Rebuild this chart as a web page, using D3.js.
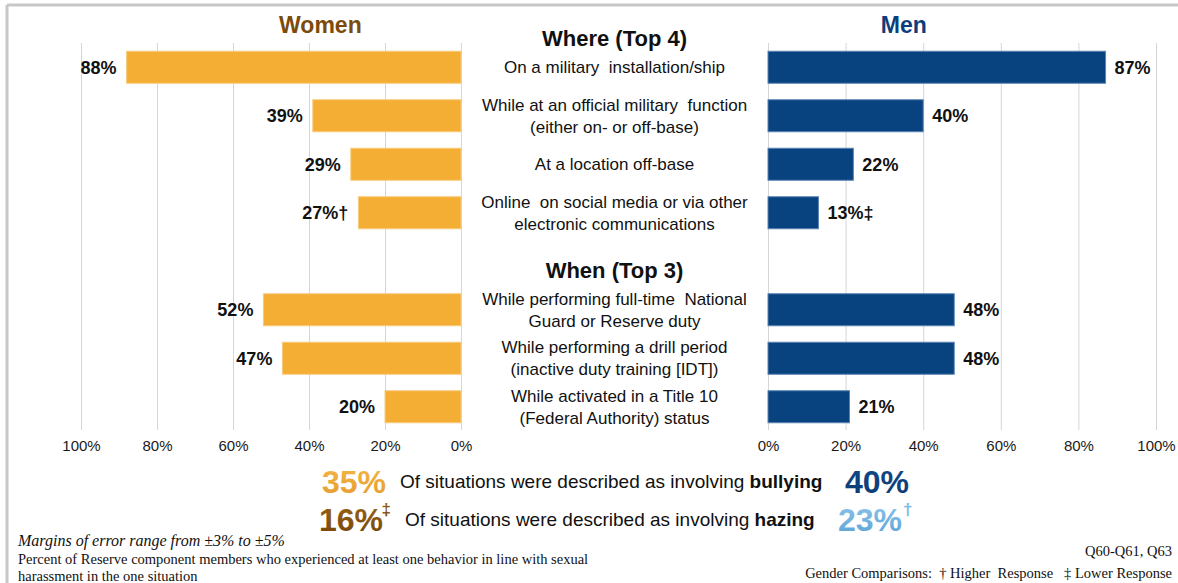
<!DOCTYPE html>
<html lang="en">
<head>
  <meta charset="UTF-8">
  <script src="https://d3js.org/d3.v7.min.js"></script>
  <title>Where and When</title>
  <style>
    body { margin: 0; background: #fff; }
    svg { display: block; font-family: "Liberation Sans", Arial, sans-serif; }
  </style>
</head>
<body>
  <svg width="1178" height="583"></svg>
  <script>
    // rows, "gap" is the slot where the "When" header sits
    const rowKeys = ["r0", "r1", "r2", "r3", "gap", "r5", "r6", "r7"];
    const barRows = ["r0", "r1", "r2", "r3", "r5", "r6", "r7"];
    const rowLabels = [
      ["On a military  installation/ship"],
      ["While at an official military  function", "(either on- or off-base)"],
      ["At a location off-base"],
      ["Online  on social media or via other", "electronic communications"],
      ["While performing full-time  National", "Guard or Reserve duty"],
      ["While performing a drill period", "(inactive duty training [IDT])"],
      ["While activated in a Title 10", "(Federal Authority) status"]
    ];
    const womenValues = [88, 39, 29, 27, 52, 47, 20];
    const womenMarks = ["", "", "", "†", "", "", ""];
    const menValues = [87, 40, 22, 13, 48, 48, 21];
    const menMarks = ["", "", "", "‡", "", "", ""];
    const sectionTitles = ["Where (Top 4)", "When (Top 3)"];
    const tickValues = [0, 20, 40, 60, 80, 100];

    const statTopics = ["bullying", "hazing"];
    const womenStats = [35, 16];
    const womenStatMarks = ["", "‡"];
    const menStats = [40, 23];
    const menStatMarks = ["", "†"];

    const svg = d3.select("svg");

    // frame of the slide
    svg.append("line").attr("x1", 7).attr("x2", 1178).attr("y1", 5).attr("y2", 5)
      .style("stroke", "#c8c8c8").style("stroke-width", "3px");
    svg.append("line").attr("x1", 7).attr("x2", 7).attr("y1", 5).attr("y2", 583)
      .style("stroke", "#c8c8c8").style("stroke-width", "3px");

    const gridTop = 43, gridBottom = 430;
    const y = d3.scaleBand().domain(rowKeys).range([43, 431]).paddingInner(0.34).paddingOuter(0.17);
    const xW = d3.scaleLinear().domain([0, 100]).range([461, 81]);
    const xM = d3.scaleLinear().domain([0, 100]).range([768, 1156]);

    // gradients for the big numbers
    const defs = svg.append("defs");
    const grads = {
      gOrange: ["#f5b848", "#e39b2c"],
      gBrown: ["#9b6516", "#744409"],
      gNavy: ["#134a88", "#0b3a72"],
      gLight: ["#8fc6ea", "#5aa2d6"]
    };
    Object.entries(grads).forEach(([id, c]) => {
      const g = defs.append("linearGradient").attr("id", id)
        .attr("x1", 0).attr("x2", 0).attr("y1", 0).attr("y2", 1);
      g.append("stop").attr("offset", "0%").attr("stop-color", c[0]);
      g.append("stop").attr("offset", "100%").attr("stop-color", c[1]);
    });

    const drawAxis = (scale, id) => {
      const axis = d3.axisBottom(scale)
        .tickValues(tickValues)
        .tickSize(-(gridBottom - gridTop))
        .tickPadding(10)
        .tickFormat(d => d + "%");
      const g = svg.append("g")
        .attr("id", id)
        .attr("transform", `translate(0,${gridBottom})`)
        .call(axis);
      g.select("path.domain").style("display", "none");
      g.selectAll("line").style("stroke", "#d6d6d6").style("stroke-width", "1px");
      g.selectAll("text").style("font-size", "15px").style("fill", "#1a1a1a")
        .style("font-family", "Liberation Sans, Arial, sans-serif");
    };
    drawAxis(xW, "xAxisW");
    drawAxis(xM, "xAxisM");

    const rows = barRows.map((k, i) => ({
      key: k, label: rowLabels[i],
      w: womenValues[i], wm: womenMarks[i],
      m: menValues[i], mm: menMarks[i]
    }));

    // women bars
    svg.selectAll("rect.women").data(rows).enter().append("rect")
      .attr("class", "women")
      .attr("x", d => xW(d.w))
      .attr("y", d => y(d.key))
      .attr("width", d => xW(0) - xW(d.w))
      .attr("height", y.bandwidth())
      .style("fill", "#f4ae34")
      .style("stroke", "#f8cb7c")
      .style("stroke-width", "1px");

    // men bars
    svg.selectAll("rect.men").data(rows).enter().append("rect")
      .attr("class", "men")
      .attr("x", xM(0))
      .attr("y", d => y(d.key))
      .attr("width", d => xM(d.m) - xM(0))
      .attr("height", y.bandwidth())
      .style("fill", "#08427f")
      .style("stroke", "#5b84b3")
      .style("stroke-width", "1px");

    // value labels
    svg.selectAll("text.wval").data(rows).enter().append("text")
      .attr("class", "wval")
      .attr("x", d => xW(d.w) - 10)
      .attr("y", d => y(d.key) + y.bandwidth() / 2)
      .attr("dy", "0.36em")
      .attr("text-anchor", "end")
      .style("font-size", "18px").style("font-weight", "bold").style("fill", "#111")
      .text(d => d.w + "%" + d.wm);

    svg.selectAll("text.mval").data(rows).enter().append("text")
      .attr("class", "mval")
      .attr("x", d => xM(d.m) + 9)
      .attr("y", d => y(d.key) + y.bandwidth() / 2)
      .attr("dy", "0.36em")
      .style("font-size", "18px").style("font-weight", "bold").style("fill", "#111")
      .text(d => d.m + "%" + d.mm);

    // category labels in the middle column
    const midX = (xW(0) + xM(0)) / 2;
    svg.selectAll("text.cat").data(rows).enter().append("text")
      .attr("class", "cat")
      .attr("x", midX)
      .attr("text-anchor", "middle")
      .style("font-size", "17px").style("fill", "#111")
      .style("white-space", "pre")
      .each(function(d) {
        const n = d.label.length;
        const cy = y(d.key) + y.bandwidth() / 2;
        d3.select(this).selectAll("tspan").data(d.label).enter().append("tspan")
          .attr("x", midX)
          .attr("y", (t, i) => cy + (i - (n - 1) / 2) * 22)
          .attr("dy", "0.36em")
          .text(t => t);
      });

    // section headers
    svg.append("text")
      .attr("x", midX).attr("y", y("r0") - 5)
      .attr("text-anchor", "middle")
      .style("font-size", "22px").style("font-weight", "bold").style("fill", "#111")
      .text(sectionTitles[0]);
    svg.append("text")
      .attr("x", midX).attr("y", y("gap") + y.bandwidth() + 1)
      .attr("text-anchor", "middle")
      .style("font-size", "22px").style("font-weight", "bold").style("fill", "#111")
      .text(sectionTitles[1]);

    // panel titles
    svg.append("text")
      .attr("x", xW(37)).attr("y", 33)
      .attr("text-anchor", "middle")
      .style("font-size", "23px").style("font-weight", "bold").style("fill", "#7c4b0b")
      .text("Women");
    svg.append("text")
      .attr("x", xM(35)).attr("y", 33)
      .attr("text-anchor", "middle")
      .style("font-size", "23px").style("font-weight", "bold").style("fill", "#0b3e7b")
      .text("Men");

    // bullying / hazing lines
    const statY = [481, 519];
    const wFills = ["url(#gOrange)", "url(#gBrown)"];
    const mFills = ["url(#gNavy)", "url(#gLight)"];
    const textStart = [400, 405];
    const menStart = [845, 838];
    statTopics.forEach((topic, i) => {
      const t = svg.append("text")
        .attr("x", textStart[i]).attr("y", statY[i]).attr("dy", "0.36em")
        .style("font-size", "19px").style("fill", "#111");
      t.append("tspan").text("Of situations were described as involving ");
      t.append("tspan").style("font-weight", "bold").text(topic);

      svg.append("text")
        .attr("x", textStart[i] - 14 - (womenStatMarks[i] ? 8 : 0)).attr("y", statY[i]).attr("dy", "0.36em")
        .attr("text-anchor", "end")
        .style("font-size", "32px").style("font-weight", "bold").style("fill", wFills[i])
        .text(womenStats[i] + "%");
      if (womenStatMarks[i]) {
        svg.append("text")
          .attr("x", textStart[i] - 14).attr("y", statY[i] - 4)
          .attr("text-anchor", "end")
          .style("font-size", "17px").style("font-weight", "bold").style("fill", wFills[i])
          .text(womenStatMarks[i]);
      }

      const m = svg.append("text")
        .attr("x", menStart[i]).attr("y", statY[i]).attr("dy", "0.36em")
        .style("font-size", "32px").style("font-weight", "bold").style("fill", mFills[i])
        .text(menStats[i] + "%");
      if (menStatMarks[i]) {
        const bb = m.node().getBBox();
        svg.append("text")
          .attr("x", bb.x + bb.width + 1).attr("y", statY[i] - 4)
          .style("font-size", "17px").style("font-weight", "bold").style("fill", mFills[i])
          .text(menStatMarks[i]);
      }
    });

    // footnotes
    const serif = "Liberation Serif, Times New Roman, serif";
    svg.append("text").attr("x", 18).attr("y", 546)
      .style("font-family", serif).style("font-style", "italic").style("font-size", "16px").style("fill", "#111")
      .text("Margins of error range from ±3% to ±5%");
    svg.append("text").attr("x", 18).attr("y", 564)
      .style("font-family", serif).style("font-size", "14.5px").style("fill", "#111")
      .text("Percent of Reserve component members who experienced at least one behavior in line with sexual");
    svg.append("text").attr("x", 18).attr("y", 581)
      .style("font-family", serif).style("font-size", "14.5px").style("fill", "#111")
      .text("harassment in the one situation");
    svg.append("text").attr("x", 1172).attr("y", 556).attr("text-anchor", "end")
      .style("font-family", serif).style("font-size", "14.5px").style("fill", "#111")
      .text("Q60-Q61, Q63");
    svg.append("text").attr("x", 1172).attr("y", 578).attr("text-anchor", "end")
      .style("font-family", serif).style("font-size", "14.5px").style("fill", "#111")
      .style("white-space", "pre")
      .text("Gender Comparisons:  † Higher  Response   ‡ Lower Response");
  </script>
</body>
</html>
